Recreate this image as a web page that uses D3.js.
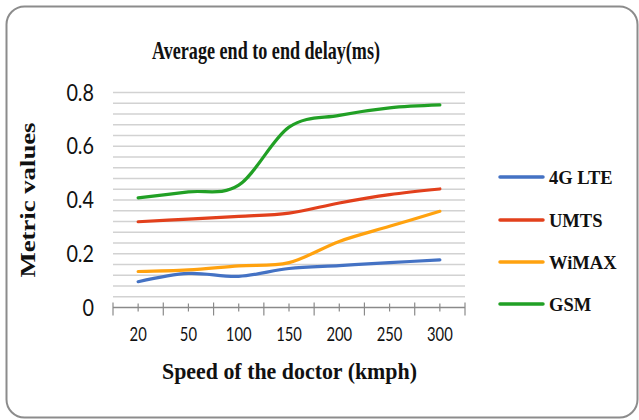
<!DOCTYPE html>
<html>
<head>
<meta charset="utf-8">
<script src="https://cdn.jsdelivr.net/npm/d3@7"></script>
<style>
  html, body { margin: 0; padding: 0; background: #fff; }
  svg { display: block; }
</style>
</head>
<body>
<svg id="chart" width="639" height="420"></svg>
<script>
// ---- data ----
const categories = ["20", "50", "100", "150", "200", "250", "300"];
const lte   = [0.096, 0.127, 0.116, 0.145, 0.156, 0.167, 0.177];
const umts  = [0.319, 0.329, 0.339, 0.351, 0.389, 0.420, 0.441];
const wimax = [0.134, 0.140, 0.155, 0.167, 0.246, 0.302, 0.358];
const gsm   = [0.408, 0.430, 0.455, 0.671, 0.715, 0.743, 0.754];
const seriesNames = ["4G LTE", "UMTS", "WiMAX", "GSM"];
const yTickLabels = [0, 0.2, 0.4, 0.6, 0.8];
const title = "Average end to end delay(ms)";
const xTitle = "Speed of the doctor (kmph)";
const yTitle = "Metric values";

const seriesValues = [lte, umts, wimax, gsm];
const colors = ["#4472C4", "#E2401C", "#FFA20F", "#21A025"];

const svg = d3.select("#chart");

// frame
svg.append("rect")
  .attr("x", 6.5).attr("y", 6.5).attr("width", 631).attr("height", 411)
  .attr("rx", 18).attr("ry", 18)
  .attr("fill", "#fff").attr("stroke", "#8c8c8c").attr("stroke-width", 2);

const plot = { left: 113, right: 465, top: 92.5, bottom: 307.5 };

const x = d3.scalePoint().domain(categories)
  .range([plot.left, plot.right]).padding(0.5);
const y = d3.scaleLinear().domain([0, 0.8]).range([plot.bottom, plot.top]);

// gridlines every 0.04
const gridVals = d3.range(1, 21).map(i => +(i * 0.04).toFixed(2));
svg.append("g").selectAll("line").data(gridVals).join("line")
  .attr("x1", plot.left).attr("x2", plot.right)
  .attr("y1", d => y(d)).attr("y2", d => y(d))
  .attr("stroke", "#d2d2d2").attr("stroke-width", 1.3);

// x axis line
svg.append("line")
  .attr("x1", plot.left).attr("x2", plot.right)
  .attr("y1", y(0)).attr("y2", y(0))
  .attr("stroke", "#8a8a8a").attr("stroke-width", 1.3);

// ticks: boundaries (long) and centers (short)
const step = x.step();
const bounds = d3.range(categories.length + 1).map(i => plot.left + i * step);
svg.append("g").selectAll("line").data(bounds).join("line")
  .attr("x1", d => d).attr("x2", d => d)
  .attr("y1", y(0) - 5).attr("y2", y(0) + 8)
  .attr("stroke", "#8a8a8a").attr("stroke-width", 1.2);
svg.append("g").selectAll("line").data(categories).join("line")
  .attr("x1", d => x(d)).attr("x2", d => x(d))
  .attr("y1", y(0) - 4).attr("y2", y(0) + 4)
  .attr("stroke", "#8a8a8a").attr("stroke-width", 1.2);

// x tick labels
svg.append("g").selectAll("text").data(categories).join("text")
  .attr("transform", d => `translate(${x(d)},341) scale(0.74,1)`)
  .attr("text-anchor", "middle")
  .attr("font-family", "Lato, 'Open Sans', sans-serif")
  .attr("font-size", 20)
  .attr("fill", "#111")
  .text(d => d);

// y tick labels
svg.append("g").selectAll("text").data(yTickLabels).join("text")
  .attr("transform", d => `translate(94,${y(d) + 8}) scale(0.86,1)`)
  .attr("text-anchor", "end")
  .attr("font-family", "Lato, 'Open Sans', sans-serif")
  .attr("font-size", 23)
  .attr("fill", "#111")
  .text(d => d === 0 ? "0" : d.toFixed(1));

// lines
const line = d3.line()
  .x((d, i) => x(categories[i]))
  .y(d => y(d))
  .curve(d3.curveCardinal.tension(0));

svg.append("g").selectAll("path").data(seriesValues).join("path")
  .attr("d", d => line(d))
  .attr("fill", "none")
  .attr("stroke", (d, i) => colors[i])
  .attr("stroke-width", 3.2)
  .attr("stroke-linecap", "round")
  .attr("stroke-linejoin", "round");

// title
svg.append("text")
  .attr("x", 266).attr("y", 59)
  .attr("text-anchor", "middle")
  .attr("font-family", "'Liberation Serif', 'Times New Roman', serif")
  .attr("font-weight", "bold")
  .attr("font-size", 26)
  .attr("textLength", 228).attr("lengthAdjust", "spacingAndGlyphs")
  .attr("fill", "#111")
  .text(title);

// x title
svg.append("text")
  .attr("x", 289.5).attr("y", 379)
  .attr("text-anchor", "middle")
  .attr("font-family", "'Liberation Serif', 'Times New Roman', serif")
  .attr("font-weight", "bold")
  .attr("font-size", 23)
  .attr("textLength", 255).attr("lengthAdjust", "spacingAndGlyphs")
  .attr("fill", "#111")
  .text(xTitle);

// y title
svg.append("text")
  .attr("transform", "translate(35,200) rotate(-90)")
  .attr("text-anchor", "middle")
  .attr("font-family", "'Liberation Serif', 'Times New Roman', serif")
  .attr("font-weight", "bold")
  .attr("font-size", 22)
  .attr("textLength", 155).attr("lengthAdjust", "spacingAndGlyphs")
  .attr("fill", "#111")
  .text(yTitle);

// legend
const legendY = [177, 220, 262, 304];
const lg = svg.append("g").selectAll("g").data(seriesNames).join("g")
  .attr("transform", (d, i) => `translate(0,${legendY[i]})`);
lg.append("line")
  .attr("x1", 500).attr("x2", 543).attr("y1", 0).attr("y2", 0)
  .attr("stroke", (d, i) => colors[i]).attr("stroke-width", 3.5)
  .attr("stroke-linecap", "round");
lg.append("text")
  .attr("x", 549).attr("y", 6.5)
  .attr("font-family", "'Liberation Serif', 'Times New Roman', serif")
  .attr("font-weight", "bold")
  .attr("font-size", 18.5)
  .attr("fill", "#111")
  .text(d => d);
</script>
</body>
</html>
